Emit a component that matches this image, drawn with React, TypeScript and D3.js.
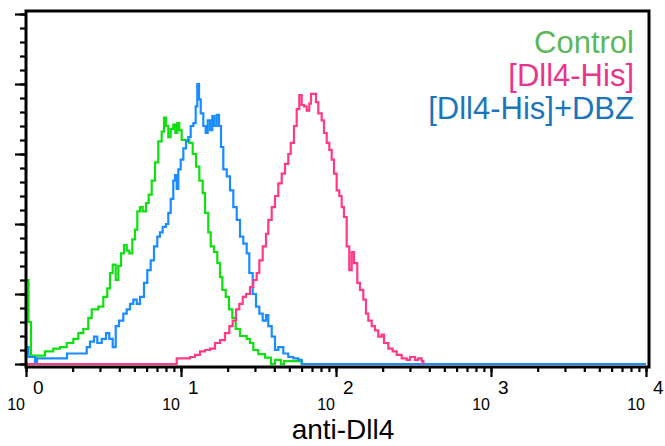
import React, { useEffect, useRef } from 'react';
import * as d3 from 'd3';

const WIDTH = 665;
const HEIGHT = 446;

// histogram steps: [anti-Dll4 fluorescence, events]
const control: [number, number][] = [
  [1.0, 60], [1.038, 30], [1.077, 6], [1.326, 9], [1.5, 11], [1.657, 12], [1.831, 15],
  [2.02, 18], [2.175, 22], [2.343, 25], [2.523, 33], [2.654, 39], [2.928, 41], [3.153, 48],
  [3.346, 54], [3.483, 65], [3.626, 71], [3.791, 60], [3.94, 70], [4.102, 79], [4.289, 85],
  [4.464, 81], [4.64, 79], [4.851, 89], [5.05, 96], [5.225, 109], [5.438, 112], [5.661, 109],
  [5.946, 115], [6.188, 121], [6.471, 131], [6.796, 144], [7.137, 159], [7.506, 166],
  [7.767, 176], [8.001, 170], [8.28, 162], [8.58, 168], [8.919, 171], [9.189, 165],
  [9.465, 172], [9.75, 167], [10.1, 160], [10.72, 160], [11.31, 158], [11.9, 150],
  [12.5, 141], [13.13, 131], [13.8, 122], [14.29, 108], [15.0, 94], [15.55, 84], [16.33, 80],
  [17.15, 72], [17.85, 62], [18.48, 53], [19.43, 48], [20.4, 39], [21.43, 33], [22.54, 25],
  [24.03, 20], [26.54, 18], [27.87, 15], [29.28, 10], [31.53, 7], [34.83, 4.5], [38.07, 0],
  [40.42, 3], [44.19, 0], [46.19, 2], [60.06, 0],
];

const dll4His: [number, number][] = [
  [1.0, 0], [9.383, 4], [11.43, 5], [12.31, 6.5], [13.27, 9], [14.29, 10], [15.39, 11],
  [16.57, 15], [17.85, 17], [19.22, 22], [20.5, 27], [21.56, 31], [22.63, 39], [23.78, 43],
  [25.01, 48], [26.27, 50], [27.87, 55], [29.28, 60], [30.79, 65], [32.01, 74], [33.66, 84],
  [35.35, 93], [36.58, 103], [38.48, 112], [40.42, 120], [42.44, 129], [44.64, 136],
  [46.88, 143], [49.23, 150], [51.02, 158], [53.58, 170], [55.78, 182], [57.97, 192],
  [60.06, 185], [62.14, 184], [64.71, 181], [67.25, 186], [68.98, 193], [71.37, 193],
  [74.3, 187], [76.88, 179], [80.84, 174], [83.66, 165], [87.1, 158], [90.53, 153],
  [93.83, 146], [97.07, 136], [101.0, 124], [105.0, 120], [108.8, 112], [112.6, 105],
  [117.2, 84], [121.8, 67], [126.3, 80], [130.7, 72], [137.2, 58], [142.8, 53], [150.0, 46],
  [156.1, 36], [161.6, 31], [170.0, 27], [178.5, 24], [187.5, 19.5], [197.2, 21], [204.1, 15],
  [217.6, 11], [232.2, 9], [246.4, 6.5], [265.4, 4], [285.8, 3], [300.3, 5], [323.4, 3],
  [339.6, 4], [357.3, 2], [365.8, 0],
];

const dll4HisDbz: [number, number][] = [
  [1.0, 12], [1.038, 5], [1.143, 0], [1.178, 4], [1.839, 7.5], [2.464, 12], [2.588, 16],
  [2.746, 19.5], [2.884, 15], [3.079, 18], [3.282, 22], [3.447, 18], [3.626, 12], [3.791, 27],
  [3.981, 31], [4.244, 36], [4.464, 39], [4.688, 43], [4.923, 46], [5.179, 43], [5.438, 48],
  [5.771, 58], [6.061, 67], [6.375, 74], [6.695, 84], [7.032, 91], [7.319, 94], [7.618, 98],
  [8.001, 100], [8.28, 108], [8.58, 118], [8.919, 131], [9.149, 135], [9.383, 125],
  [9.608, 139], [9.956, 146], [10.35, 154], [10.77, 159], [11.15, 162], [11.55, 170],
  [12.01, 172], [12.44, 184], [12.74, 200], [13.07, 189], [13.4, 179], [13.93, 170],
  [14.43, 165], [14.87, 174], [15.39, 167], [15.92, 177], [16.4, 170], [16.99, 178],
  [17.59, 170], [18.12, 155], [18.75, 139], [19.72, 134], [20.71, 124], [21.75, 112],
  [22.88, 103], [24.03, 91], [25.23, 86], [26.54, 79], [27.58, 65], [29.01, 50], [30.47, 41],
  [32.01, 36], [33.66, 31], [35.35, 35], [36.58, 27], [38.48, 19.5], [40.42, 10], [42.44, 12],
  [45.71, 7.5], [49.23, 5], [53.04, 4], [57.14, 3], [60.06, 0], [10000, 0],
];

const seriesNames = ['Control', '[Dll4-His]', '[Dll4-His]+DBZ'];
const seriesData = [control, dll4His, dll4HisDbz];
const lineColors = ['#10e010', '#ff3a88', '#1a8cff'];
const legendColors = ['#5cb85c', '#e8358c', '#1c75bb'];
const drawOrder = [0, 2, 1];

const decades = [1, 10, 100, 1000, 10000];
const exponents = ['0', '1', '2', '3', '4'];
const countMax = 250;
const xTitle = 'anti-Dll4';

const FONT = '"Liberation Sans", Arial, Helvetica, sans-serif';

export default function App() {
  const xMinorRef = useRef<SVGGElement>(null);
  const xMajorRef = useRef<SVGGElement>(null);
  const yMinorRef = useRef<SVGGElement>(null);
  const yMajorRef = useRef<SVGGElement>(null);

  const frame = { left: 26, right: 649, top: 11, bottom: 367 };
  const x = d3.scaleLog().domain([1, 10000]).range([26, 646]);
  const y = d3.scaleLinear().domain([0, countMax]).range([364, 14]);

  const line = d3
    .line<[number, number]>()
    .x((d) => x(d[0]))
    .y((d) => y(d[1]))
    .curve(d3.curveStepAfter);

  useEffect(() => {
    const style = (g: any) => {
      g.select('.domain').remove();
      g.selectAll('.tick line').attr('stroke', '#000').attr('stroke-width', 2.2);
      g.selectAll('.tick text').remove();
    };
    d3.select(xMinorRef.current)
      .call(d3.axisBottom(x).tickValues(x.ticks()).tickSize(5).tickFormat(() => '') as any)
      .call(style);
    d3.select(xMajorRef.current)
      .call(d3.axisBottom(x).tickValues(decades).tickSize(10).tickFormat(() => '') as any)
      .call(style);
    d3.select(yMinorRef.current)
      .call(d3.axisLeft(y).ticks(25).tickSize(6).tickFormat(() => '') as any)
      .call(style);
    d3.select(yMajorRef.current)
      .call(d3.axisLeft(y).ticks(5).tickSize(11).tickFormat(() => '') as any)
      .call(style);
  }, []);

  return (
    <div style={{ position: 'absolute', left: 0, top: 0 }}>
      <svg width={WIDTH} height={HEIGHT} style={{ display: 'block', background: '#fff' }}>
        <rect x={0} y={0} width={WIDTH} height={HEIGHT} fill="#fff" />

        {drawOrder.map((i) => (
          <path
            key={seriesNames[i]}
            d={line(seriesData[i]) || ''}
            fill="none"
            stroke={lineColors[i]}
            strokeWidth={2.2}
          />
        ))}

        <rect
          x={frame.left}
          y={frame.top}
          width={frame.right - frame.left}
          height={frame.bottom - frame.top}
          fill="none"
          stroke="#000"
          strokeWidth={3}
        />

        <g ref={xMinorRef} transform={`translate(0, ${frame.bottom})`} />
        <g ref={xMajorRef} transform={`translate(0, ${frame.bottom})`} />
        <g ref={yMinorRef} transform={`translate(${frame.left}, 0)`} />
        <g ref={yMajorRef} transform={`translate(${frame.left}, 0)`} />

        {decades.map((d, i) => (
          <g key={d} fontFamily={FONT} fill="#000">
            <text x={x(d) - 1} y={410} fontSize={16} textAnchor="end">10</text>
            <text x={x(d) + 7} y={394} fontSize={19} textAnchor="start">{exponents[i]}</text>
          </g>
        ))}

        <text x={343} y={439} fontFamily={FONT} fontSize={28} textAnchor="middle" fill="#000">
          {xTitle}
        </text>

        {seriesNames.map((name, i) => (
          <text
            key={name}
            x={634}
            y={53 + i * 33}
            fontFamily={FONT}
            fontSize={31}
            textAnchor="end"
            fill={legendColors[i]}
          >
            {name}
          </text>
        ))}
      </svg>
    </div>
  );
}
